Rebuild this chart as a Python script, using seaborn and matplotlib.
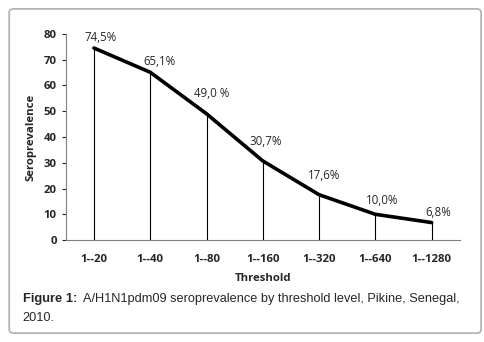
import numpy as np
import pandas as pd
import matplotlib.pyplot as plt
from matplotlib.patches import FancyBboxPatch
import seaborn as sns

thresholds = ["1--20", "1--40", "1--80", "1--160", "1--320", "1--640", "1--1280"]
seroprev = [74.5, 65.1, 49.0, 30.7, 17.6, 10.0, 6.8]
point_labels = ["74,5%", "65,1%", "49,0 %", "30,7%", "17,6%", "10,0%", "6,8%"]

# label nudges (pixels right, pixels up) as placed in the original
label_dx = [7, 9, 5, 2.5, 5, 7, 6.5]
label_dy = [11, 11, 20, 19, 19, 14, 10]

df = pd.DataFrame({"pos": np.arange(len(thresholds)), "value": seroprev})

sns.set_style("white")
plt.rcParams["font.family"] = ["Open Sans", "DejaVu Sans"]

fig = plt.figure(figsize=(4.84, 3.42), dpi=100)
ax = fig.add_axes([0.136, 0.298, 0.814, 0.603])

# drop lines from each point to the axis
ax.vlines(df["pos"], 0, df["value"], color="black", lw=0.8)
sns.lineplot(data=df, x="pos", y="value", ax=ax, color="black", lw=2.6)

for x, y, t, dx, dy in zip(df["pos"], df["value"], point_labels, label_dx, label_dy):
    ax.annotate(t, (x, y), xytext=(dx * 0.72, dy * 0.72), textcoords="offset points",
                ha="center", va="center", fontsize=8.3)

ax.set_xlim(-0.5, len(thresholds) - 0.5)
ax.set_ylim(0, 80)
ax.set_yticks(range(0, 81, 10))
ax.set_xticks(df["pos"])
ax.set_xticklabels(thresholds, fontsize=8.2, fontweight="bold")
ax.tick_params(axis="y", labelsize=8.2, length=3, width=0.8, direction="out", left=True)
ax.tick_params(axis="x", length=0, pad=10)
for lab in ax.get_yticklabels():
    lab.set_fontweight("bold")
ax.set_xlabel("Threshold", fontsize=8.2, fontweight="bold", labelpad=6)
ax.set_ylabel("Seroprevalence", fontsize=8.2, fontweight="bold", labelpad=5)
sns.despine(ax=ax)
for side in ["left", "bottom"]:
    ax.spines[side].set_color("#808080")
    ax.spines[side].set_linewidth(0.8)

fig.text(0.047, 0.118, "Figure 1:", fontsize=9.3, fontweight="bold",
         family="Liberation Sans", va="baseline")
fig.text(0.172, 0.118, "A/H1N1pdm09 seroprevalence by threshold level, Pikine, Senegal,",
         fontsize=9.2, family="Liberation Sans", va="baseline")
fig.text(0.047, 0.062, "2010.", fontsize=9.2, family="Liberation Sans", va="baseline")

box = FancyBboxPatch((0.019, 0.026), 0.975, 0.948, boxstyle="round,pad=0,rounding_size=0.01",
                     transform=fig.transFigure, fill=False, edgecolor="#b4b4b4", lw=1.3)
fig.patches.append(box)

fig.savefig("out.png", dpi=100)
